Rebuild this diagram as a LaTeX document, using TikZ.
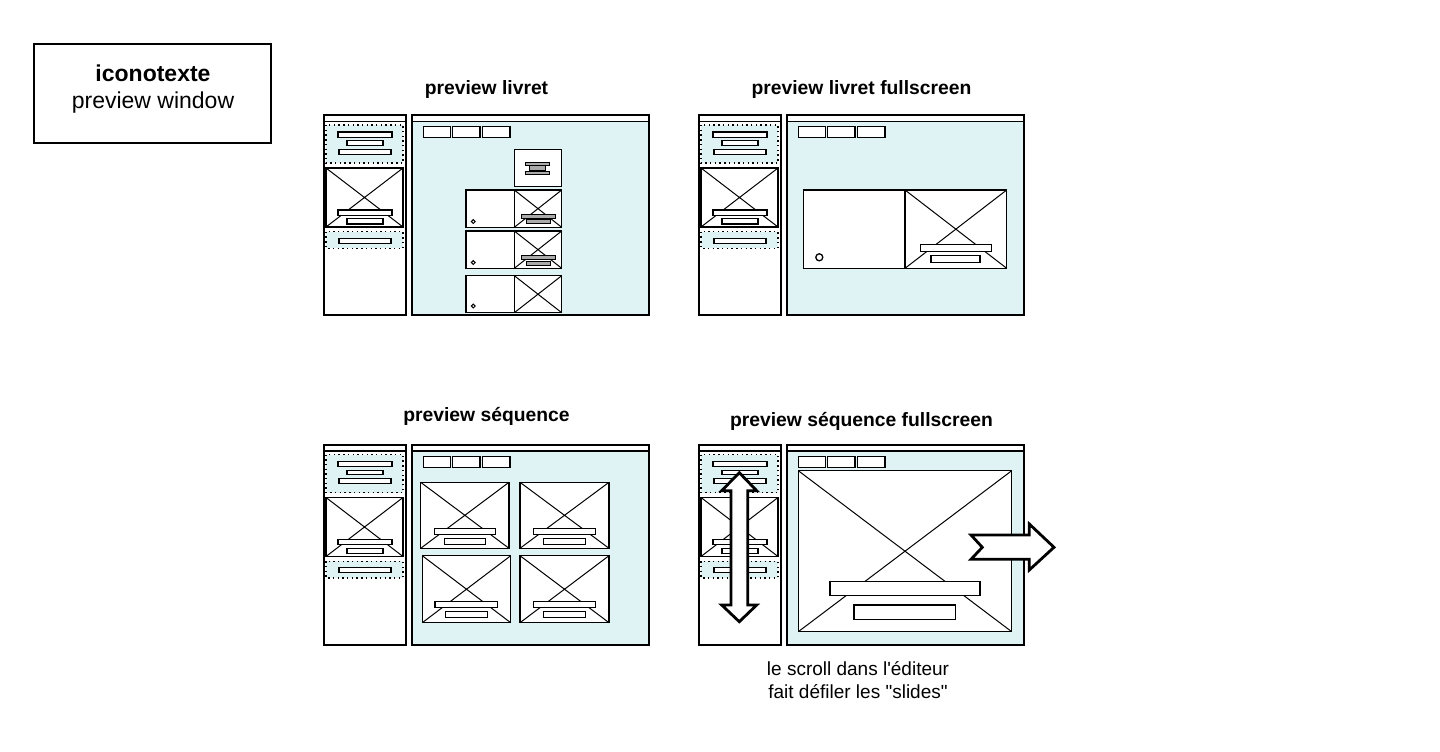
\documentclass[tikz,border=0pt]{standalone}
\usepackage{fontspec}
\setmainfont{Liberation Sans}[Ligatures=TeXOff]
\definecolor{pale}{RGB}{223,243,245}
\definecolor{barg}{RGB}{170,170,170}
\tikzset{
  win/.style={draw=black, line width=2pt},
  strip/.style={draw=black, line width=1.8pt},
  box/.style={draw=black, line width=1.4pt, fill=white},
  wbar/.style={draw=black, line width=1.3pt, fill=white},
  gbar/.style={draw=black, line width=0.8pt, fill=barg},
  xline/.style={draw=black, line width=1pt},
  dotbox/.style={draw=black, line width=1.4pt, dash pattern=on 1.4pt off 3.3pt, fill=pale},
  bigarrow/.style={draw=black, line width=2.8pt, fill=white, line join=miter},
  lbl/.style={font=\bfseries\fontsize{19.3}{22}\selectfont, inner sep=0pt},
  txt/.style={font=\fontsize{19}{23}\selectfont, inner sep=0pt, align=center},
}
\newcommand\Xbox[4]{\draw[box] (#1,#2) rectangle (#3,#4); \draw[xline] (#1,#2) -- (#3,#4) (#1,#4) -- (#3,#2);}
\newcommand\Wbar[4]{\draw[wbar] (#1,#2) rectangle (#3,#4);}
\newcommand\Gbar[4]{\draw[gbar] (#1,#2) rectangle (#3,#4);}
\newcommand\Sidebar[2]{%
  \begin{scope}[shift={(#1,#2)}]
    \fill[white] (0,0) rectangle (82,200);
    \draw[dotbox] (2,10) rectangle (79,48);
    \Wbar{14}{17}{68}{22.3}
    \Wbar{23}{25.7}{59}{30.3}
    \Wbar{15}{34.3}{67}{39.3}
    \Xbox{2}{53}{79}{112}
    \Wbar{14}{95}{68}{100.3}
    \Wbar{23}{103.7}{59}{109}
    \draw[dotbox] (2,116.7) rectangle (79,133.3);
    \Wbar{15}{123.3}{67}{128.3}
    \draw[win] (0,0) rectangle (82,200);
    \draw[strip] (0,6.5) -- (82,6.5);
  \end{scope}}
\newcommand\Mainwin[2]{%
  \begin{scope}[shift={(#1,#2)}]
    \fill[white] (0,0) rectangle (236.7,6.5);
    \fill[pale] (0,6.5) rectangle (236.7,200);
    \draw[win] (0,0) rectangle (236.7,200);
    \draw[strip] (0,6.5) -- (236.7,6.5);
    \Wbar{11}{11.7}{38.4}{22.7}
    \Wbar{40}{11.7}{67.7}{22.7}
    \Wbar{70}{11.7}{97.7}{22.7}
  \end{scope}}
\begin{document}
\begin{tikzpicture}[x=1pt,y=-1pt]
\useasboundingbox[fill=white] (0,0) rectangle (1440,752);

% title box
\node[draw, line width=2pt, minimum width=237pt, minimum height=99pt, inner sep=0pt] (title) at (152,93.5) {};
\node[font=\bfseries\fontsize{23}{26}\selectfont, inner sep=0pt, anchor=base] (titlea) at (153,81.7) {iconotexte};
\node[font=\fontsize{23}{26}\selectfont, inner sep=0pt, anchor=base] (titleb) at (153,108) {preview window};

% labels
\node[lbl] (t1) at (486.5,90) {preview livret};
\node[lbl] (t2) at (861.5,90) {preview livret fullscreen};
\node[lbl] (t3) at (486.5,416) {preview séquence};
\node[lbl] (t4) at (861.5,421) {preview séquence fullscreen};

% ---------- panel 1 : preview livret
\Sidebar{324}{115}
\Mainwin{412.3}{115}
\draw[box] (514.3,149.3) rectangle (561.7,186.7);
\Gbar{525}{162}{549}{165}
\Gbar{529}{165.5}{545}{170.5}
\Gbar{525}{171}{549}{174}
% row 1
\draw[box] (466,190) rectangle (514.3,227.3);
\Xbox{514.3}{190}{561.7}{227.3}
\Gbar{521}{214.5}{555}{218}
\Gbar{526}{219.5}{550}{223.5}
\draw[line width=1pt, fill=white] (473.3,221.5) circle (1.9);
% row 2
\draw[box] (466,231) rectangle (514.3,268.3);
\Xbox{514.3}{231}{561.7}{268.3}
\Gbar{521}{255.5}{555}{259}
\Gbar{526}{261}{550}{265}
\draw[line width=1pt, fill=white] (473.3,262.5) circle (1.9);
% row 3
\draw[box] (466,275.7) rectangle (514.3,312.7);
\Xbox{514.3}{275.7}{561.7}{312.7}
\draw[line width=1pt, fill=white] (473.3,306) circle (1.9);

% ---------- panel 2 : preview livret fullscreen
\Sidebar{699}{115}
\Mainwin{787.3}{115}
\draw[box] (803.3,190) rectangle (905,268.3);
\Xbox{905}{190}{1006.7}{268.3}
\Wbar{920.3}{244.3}{991.7}{251.7}
\Wbar{931}{255.3}{980}{262.7}
\draw[line width=1.3pt, fill=white] (819.3,257.3) circle (3.5);

% ---------- panel 3 : preview sequence
\Sidebar{324}{444.5}
\Mainwin{412.3}{444.5}
\Xbox{420.7}{482.3}{509}{548.3}
\Wbar{434.3}{528.3}{495.7}{534.3}
\Wbar{444.3}{538.3}{485.7}{544.3}
\Xbox{520}{482.3}{609}{548.3}
\Wbar{533.3}{528.3}{595.7}{534.3}
\Wbar{543.3}{538.3}{585.7}{544.3}
\Xbox{422.3}{555.7}{510.7}{622.7}
\Wbar{435}{601.7}{497.3}{607.3}
\Wbar{445.3}{611.7}{487.3}{617.3}
\Xbox{520}{555.7}{609}{622.7}
\Wbar{533.3}{601.7}{595.7}{607.3}
\Wbar{543.3}{611.7}{585.7}{617.3}

% ---------- panel 4 : preview sequence fullscreen
\Sidebar{699}{444.5}
\Mainwin{787.3}{444.5}
\Xbox{798.3}{470.7}{1011.7}{631.7}
\Wbar{830}{581.7}{980}{595.3}
\Wbar{854}{605}{955.7}{619.3}

% vertical double arrow (scroll)
\draw[bigarrow] (739.3,472.7) -- (756.7,490.7) -- (747.7,490.7) -- (747.7,605) -- (756.7,605)
  -- (739.3,621.7) -- (721.7,605) -- (731,605) -- (731,490.7) -- (721.7,490.7) -- cycle;
\coordinate (scrolltop) at (739.3,472.7);
\coordinate (scrollbot) at (739.3,621.7);

% right block arrow (slides)
\draw[bigarrow] (971,535) -- (1029.3,535) -- (1029.3,524) -- (1054,547.3) -- (1029.3,570)
  -- (1029.3,559.3) -- (971,559.3) -- (982.3,547.3) -- cycle;

% note
\node[txt] (note) at (858,680.5) {le scroll dans l'éditeur\\fait défiler les "slides"};
\end{tikzpicture}
\end{document}
